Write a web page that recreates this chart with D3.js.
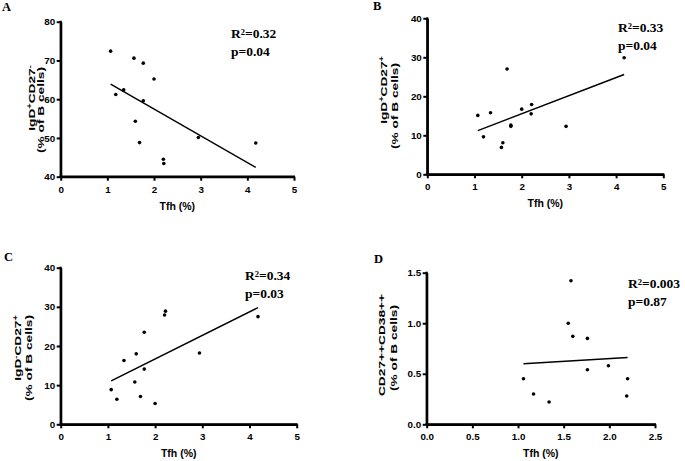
<!DOCTYPE html>
<html><head><meta charset="utf-8">
<script src="https://cdn.jsdelivr.net/npm/d3@7"></script>
<style>
body{margin:0;background:#fff;}
svg{display:block;}
.tick text{font-family:"Liberation Sans",Arial,sans-serif;font-weight:bold;font-size:9.8px;fill:#000;}
</style></head>
<body>
<svg id="c" width="685" height="461"></svg>
<script>
// Tfh (%) values
const tfhA = [1.07,1.18,1.35,1.57,1.77,1.77,1.60,1.69,2.00,2.20,2.21,2.95,4.18];
const valA = [72.4,61.2,62.4,70.6,69.3,59.6,54.3,48.8,65.2,44.5,43.4,50.1,48.7];
const fitA = [[1.07,63.9],[4.18,42.4]];

const tfhB = [1.07,1.19,1.34,1.57,1.60,1.69,1.77,1.77,2.00,2.21,2.20,2.94,4.17];
const valB = [15.1,9.6,15.8,6.9,8.1,27.0,12.3,12.6,16.7,17.9,15.5,12.3,29.9];
const fitB = [[1.07,11.2],[4.17,25.6]];

const tfhC = [1.07,1.19,1.34,1.57,1.60,1.69,1.77,1.77,2.00,2.20,2.22,2.94,4.18];
const valC = [8.85,6.4,16.3,10.8,18.0,7.1,23.5,14.1,5.3,27.9,28.9,18.2,27.5];
const fitC = [[1.07,11.1],[4.18,29.8]];

const tfhD = [1.06,1.17,1.34,1.55,1.60,1.58,1.76,1.76,1.99,2.19,2.20];
const valD = [0.45,0.30,0.22,1.00,0.87,1.42,0.85,0.54,0.58,0.28,0.45];
const fitD = [[1.06,0.60],[2.20,0.66]];

const ticksA = [40,50,60,70,80];
const ticks040 = [0,10,20,30,40];
const ticksD = [0,0.5,1.0,1.5];
const xTicks5 = [0,1,2,3,4,5];
const xTicksD = [0,0.5,1.0,1.5,2.0,2.5];

const svg = d3.select("#c");

function panel(o){
  const g = svg.append("g");
  const x = d3.scaleLinear().domain(o.xd).range([o.x0,o.x1]);
  const y = d3.scaleLinear().domain(o.yd).range([o.yb,o.yt]);
  const xa = d3.axisBottom(x).tickValues(o.xt).tickSize(4).tickPadding(5).tickSizeOuter(0).tickFormat(o.xf);
  const ya = d3.axisLeft(y).tickValues(o.yt_).tickSize(4).tickPadding(1.5).tickSizeOuter(0).tickFormat(o.yf);
  const gx = g.append("g").attr("transform",`translate(0,${o.yb})`).call(xa);
  const gy = g.append("g").attr("transform",`translate(${o.x0},0)`).call(ya);
  [gx,gy].forEach(a=>{
    a.select(".domain").attr("stroke","#000").attr("stroke-width",2.2);
    a.selectAll(".tick line").attr("stroke","#000").attr("stroke-width",2);
  });
  g.append("line").attr("x1",o.x0-1.1).attr("x2",o.x1+1).attr("y1",o.yb).attr("y2",o.yb).attr("stroke","#000").attr("stroke-width",2.2);
  g.append("line").attr("x1",o.x0).attr("x2",o.x0).attr("y1",o.yt-1).attr("y2",o.yb+1.1).attr("stroke","#000").attr("stroke-width",2.2);

  // regression line
  g.append("line")
    .attr("x1",x(o.fit[0][0])).attr("y1",y(o.fit[0][1]))
    .attr("x2",x(o.fit[1][0])).attr("y2",y(o.fit[1][1]))
    .attr("stroke","#000").attr("stroke-width",1.5);
  // points
  g.selectAll("circle.p").data(o.xs.map((v,i)=>[v,o.ys[i]])).join("circle")
    .attr("cx",d=>x(d[0])).attr("cy",d=>y(d[1])).attr("r",1.8).attr("fill","#000");

  // x title
  g.append("text").attr("x",(o.x0+o.x1)/2).attr("y",o.yb+33)
    .attr("text-anchor","middle").attr("font-family","Liberation Sans, Arial, sans-serif")
    .attr("font-weight","bold").attr("font-size","10.5px").text("Tfh (%)");

  // y title lines
  o.ylab.forEach(l=>{
    const t = g.append("g").attr("transform",`translate(${l.x},${l.y}) rotate(-90) scale(1.4,1)`)
      .append("text").attr("text-anchor","middle")
      .attr("font-family","Liberation Sans, Arial, sans-serif").attr("font-weight","bold").attr("font-size","9.8px");
    let shift = 0;
    l.parts.forEach(p=>{
      const ts = t.append("tspan").text(p.t);
      if(p.sup){ ts.attr("dy","-0.45em").attr("font-size","6.5px"); shift = 1; }
      else if(shift){ ts.attr("dy","0.3em"); shift = 0; }
    });
  });

  // panel letter
  g.append("text").attr("x",o.lx).attr("y",o.ly).attr("font-family","Liberation Serif, Times New Roman, serif")
    .attr("font-weight","bold").attr("font-size","12.5px").text(o.letter);

  // stats
  const st = g.append("text").attr("x",o.sx).attr("y",o.sy).attr("font-family","Liberation Serif, Times New Roman, serif")
    .attr("font-weight","bold").attr("font-size","13.5px");
  st.append("tspan").text("R");
  st.append("tspan").attr("dy","-0.4em").attr("font-size","8.5px").text("2");
  st.append("tspan").attr("dy","0.25em").text(o.r2);
  g.append("text").attr("x",o.sx).attr("y",o.sy+17.5).attr("font-family","Liberation Serif, Times New Roman, serif")
    .attr("font-weight","bold").attr("font-size","13.5px").text(o.p);
}

const f0 = d3.format("d"), f1 = d3.format(".1f");

panel({x0:60.7,x1:294,yt:21.7,yb:176.7,xd:[0,5],yd:[40,80],xt:xTicks5,yt_:ticksA,xf:f0,yf:f0,
  xs:tfhA,ys:valA,fit:fitA,letter:"A",lx:2,ly:11,sx:231,sy:38,r2:"=0.32",p:"p=0.04",
  ylab:[{x:34.5,y:98,parts:[{t:"IgD"},{t:"+",sup:1},{t:"CD27"},{t:"-",sup:1}]},
        {x:44,y:110,parts:[{t:"(% of B cells)"}]}]});

panel({x0:427.3,x1:663.3,yt:18.3,yb:174.3,xd:[0,5],yd:[0,40],xt:xTicks5,yt_:ticks040,xf:f0,yf:f0,
  xs:tfhB,ys:valB,fit:fitB,letter:"B",lx:373,ly:9.5,sx:618,sy:32,r2:"=0.33",p:"p=0.04",
  ylab:[{x:387,y:90,parts:[{t:"IgD"},{t:"+",sup:1},{t:"CD27"},{t:"+",sup:1}]},
        {x:398,y:106,parts:[{t:"(% of B cells)"}]}]});

panel({x0:60.7,x1:296.7,yt:267.7,yb:424.3,xd:[0,5],yd:[0,40],xt:xTicks5,yt_:ticks040,xf:f0,yf:f0,
  xs:tfhC,ys:valC,fit:fitC,letter:"C",lx:4,ly:261,sx:245,sy:280,r2:"=0.34",p:"p=0.03",
  ylab:[{x:21,y:348,parts:[{t:"IgD"},{t:"-",sup:1},{t:"CD27"},{t:"+",sup:1}]},
        {x:32,y:358,parts:[{t:"(% of B cells)"}]}]});

panel({x0:426.7,x1:655,yt:272.7,yb:424.3,xd:[0,2.5],yd:[0,1.5],xt:xTicksD,yt_:ticksD,xf:f1,yf:f1,
  xs:tfhD,ys:valD,fit:fitD,letter:"D",lx:374,ly:263,sx:628,sy:288,r2:"=0.003",p:"p=0.87",
  ylab:[{x:385,y:345,parts:[{t:"CD27++CD38++"}]},
        {x:397,y:348,parts:[{t:"(% of B cells)"}]}]});
</script>
</body></html>
